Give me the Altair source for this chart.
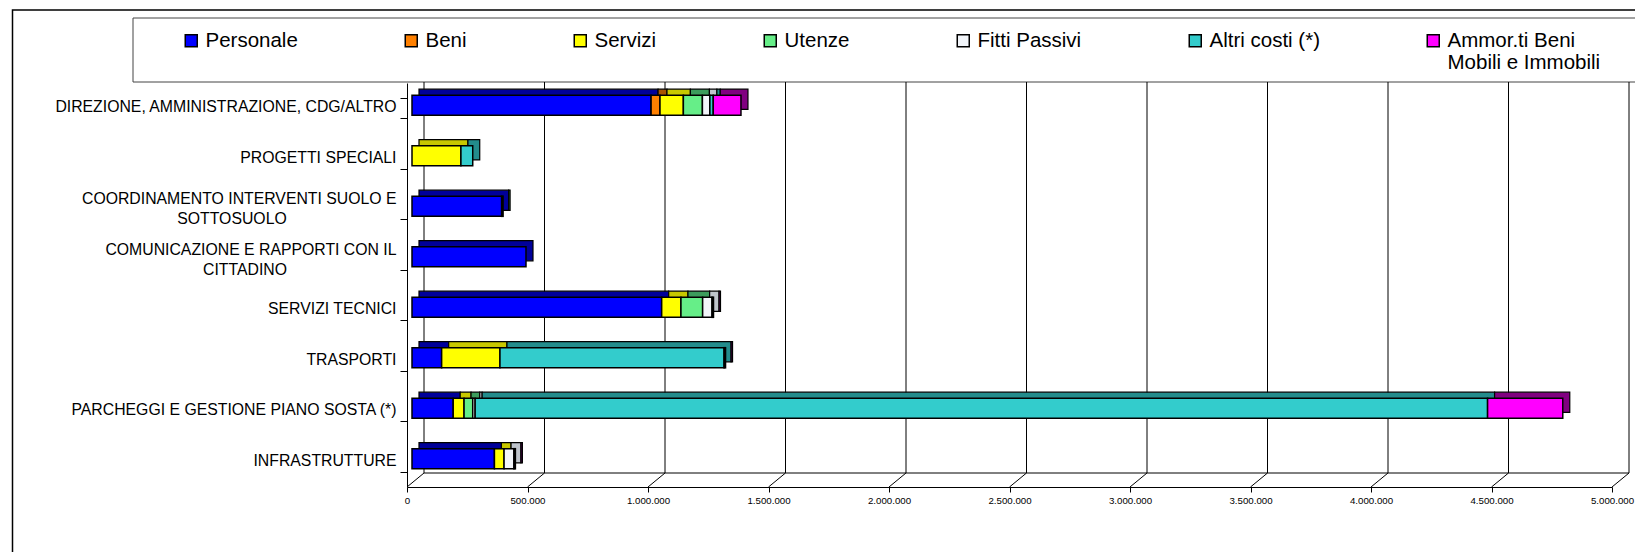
import altair as alt
import pandas as pd

# ---------------- data ----------------
categories = [
    "DIREZIONE, AMMINISTRAZIONE, CDG/ALTRO",
    "PROGETTI SPECIALI",
    "COORDINAMENTO INTERVENTI SUOLO E|SOTTOSUOLO",
    "COMUNICAZIONE E RAPPORTI CON IL|CITTADINO",
    "SERVIZI TECNICI",
    "TRASPORTI",
    "PARCHEGGI E GESTIONE PIANO SOSTA (*)",
    "INFRASTRUTTURE",
]

series = ["Personale", "Beni", "Servizi", "Utenze", "Fitti Passivi",
          "Altri costi (*)", "Ammor.ti Beni|Mobili e Immobili"]

personale = [992000, 0, 372000, 473000, 1036000, 123000, 171000, 342000]
beni      = [37000, 0, 0, 0, 0, 0, 0, 0]
servizi   = [97000, 203000, 0, 0, 80000, 242000, 45000, 40000]
utenze    = [79000, 0, 6000, 0, 90000, 0, 36000, 0]
fitti     = [31000, 0, 0, 0, 39000, 0, 10000, 41000]
altri     = [14000, 49000, 0, 0, 0, 930000, 4201000, 0]
ammor     = [115000, 0, 0, 0, 6000, 6000, 312000, 6000]

ticks = [0, 500000, 1000000, 1500000, 2000000, 2500000, 3000000,
         3500000, 4000000, 4500000, 5000000]

front_colors = ["#0000FF", "#FF8000", "#FFFF00", "#66EE88", "#F2F5FA", "#33CCCC", "#FF00FF"]
dark_colors  = ["#00009A", "#A85400", "#C8C800", "#3C9C5C", "#BFC4CC", "#238C8C", "#800080"]

# ---------------- tables ----------------
values = [personale, beni, servizi, utenze, fitti, altri, ammor]
rows = []
for si, (s, vals) in enumerate(zip(series, values)):
    for c, v in zip(categories, vals):
        if v > 0:
            rows.append({"cat": c, "series": s, "idx": si, "value": v,
                         "dark": dark_colors[si]})
df = pd.DataFrame(rows)

df_ticks = pd.DataFrame({"v": ticks})
wrapped = [c for c in categories if "|" in c]
one = pd.DataFrame({"a": [0]})

W, H = 1205, 404
DX, DY = 17, 14  # depth of the 3D floor
FS = 15.8

y_axis = alt.Axis(
    title=None, domainColor="black", tickColor="black", tickSize=7,
    tickBand="extent", labelPadding=4, labelFontSize=FS, labelColor="black",
    labelLimit=600, grid=False,
    labelExpr="split(datum.label, '|')[0]",
    labelOffset={"condition": {"test": "indexof(datum.label, '|') >= 0", "value": -10.5},
                 "value": -1.5},
)
x_axis = alt.Axis(
    values=ticks, title=None, tickSize=5, labelFontSize=9.7, labelPadding=3,
    grid=False, domainColor="black", tickColor="black", labelColor="black",
    labelFlush=False, labelOverlap=False,
    labelExpr="replace(replace(format(datum.value, ','), ',', '.'), ',', '.')",
)

y_enc = alt.Y("cat:N", sort=categories,
              scale=alt.Scale(paddingInner=0.6, paddingOuter=0.3), axis=y_axis)
x_scale = alt.Scale(domain=[0, 5000000], nice=False)

# outer frame and legend frame
outer = alt.Chart(one).mark_rect(fillOpacity=0, stroke="black", strokeWidth=1.5).encode(
    x=alt.value(-394.5), x2=alt.value(1400), y=alt.value(-73), y2=alt.value(700))
legbox = alt.Chart(one).mark_rect(fillOpacity=0, stroke="#444444", strokeWidth=1).encode(
    x=alt.value(-274), x2=alt.value(1400), y=alt.value(-65), y2=alt.value(-1))

# back wall gridlines, floor
grid = alt.Chart(df_ticks).mark_rule(color="black", strokeWidth=1, xOffset=DX).encode(
    x=alt.X("v:Q", scale=x_scale, axis=x_axis), y=alt.value(-1), y2=alt.value(H - DY))
diag = alt.Chart(df_ticks).mark_rule(color="black", strokeWidth=1, x2Offset=DX).encode(
    x=alt.X("v:Q", scale=x_scale), x2="v:Q", y=alt.value(H), y2=alt.value(H - DY))
floor = alt.Chart(one).mark_rule(color="black", strokeWidth=1, xOffset=DX, x2Offset=DX).encode(
    x=alt.datum(ticks[0], scale=x_scale), x2=alt.datum(ticks[-1]), y=alt.value(H - DY))

# bars: back copy (top/side faces), then front faces
back = alt.Chart(df).mark_bar(stroke="black", strokeWidth=1.2,
                              xOffset=12, x2Offset=12, yOffset=-9, y2Offset=-9).encode(
    y=y_enc,
    x=alt.X("value:Q", stack="zero", scale=x_scale),
    color=alt.Color("dark:N", scale=None),
    order=alt.Order("idx:Q"),
)

legend = alt.Legend(
    orient="none", legendX=-226, legendY=-53, direction="horizontal", title=None,
    symbolType="square", symbolSize=144, symbolStrokeColor="black", symbolStrokeWidth=1.5,
    labelFontSize=20.5, labelFont="Liberation Sans", labelColor="black", labelOffset=4,
    columnPadding=103, labelLimit=600, padding=0,
    labelExpr="indexof(datum.label, '|') >= 0 ? split(datum.label, '|') : [datum.label, '']",
    labelBaseline="middle",
)

front = alt.Chart(df).mark_bar(stroke="black", strokeWidth=1.5,
                               xOffset=5, x2Offset=5, yOffset=-3, y2Offset=-3).encode(
    y=y_enc,
    x=alt.X("value:Q", stack="zero", scale=x_scale),
    color=alt.Color("series:N", scale=alt.Scale(domain=series, range=front_colors),
                    legend=legend),
    order=alt.Order("idx:Q"),
)

# second lines of the wrapped category labels, centred under the first line
line2_layers = []
for c, cx in zip(wrapped, [-175, -162]):
    d = pd.DataFrame([{"cat": c, "line2": c.split("|")[1]}])
    line2_layers.append(
        alt.Chart(d).mark_text(align="center", baseline="middle", dy=10,
                               fontSize=FS, font="Liberation Sans", color="black").encode(
            y=alt.Y("cat:N", sort=categories), x=alt.value(cx), text="line2:N"))

chart = alt.layer(outer, legbox, grid, diag, floor, back, front, *line2_layers).properties(
    width=W, height=H,
    autosize=alt.AutoSizeParams(type="none"),
    padding={"left": 399, "top": 75, "right": 23, "bottom": 65},
).configure(font="Liberation Sans").configure_view(stroke=None)

chart.save("out.html", embed_options={"renderer": "svg", "actions": False})
